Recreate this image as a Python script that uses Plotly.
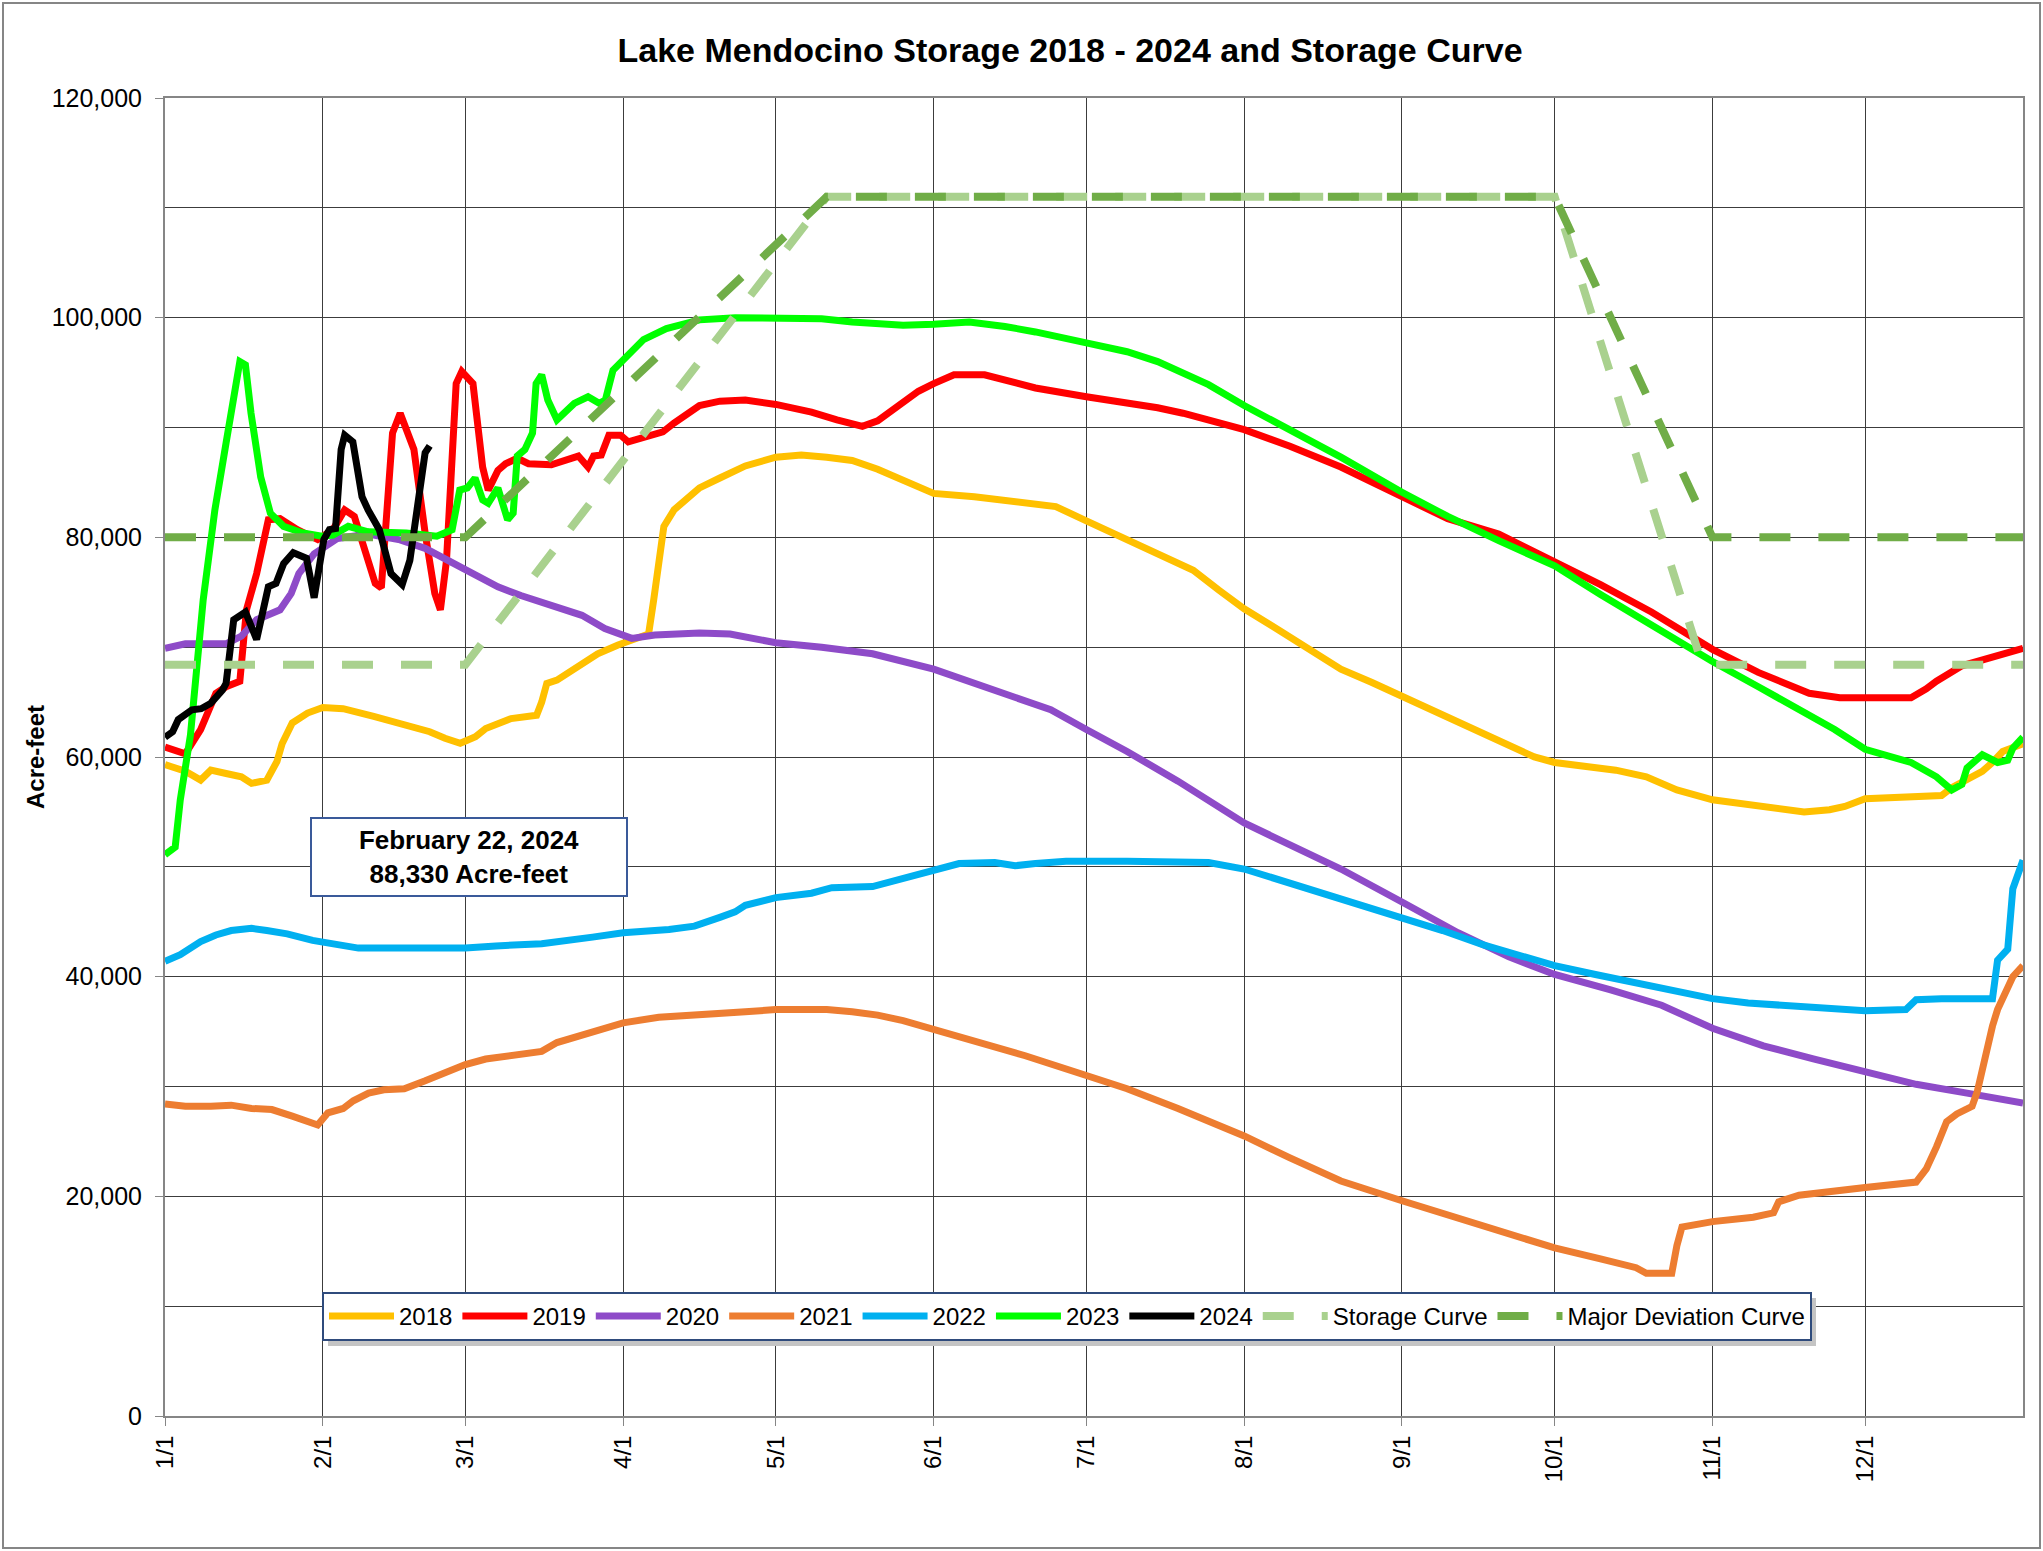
import plotly.graph_objects as go

# ---------------- data ----------------
month_days = [1, 32, 60, 91, 121, 152, 182, 213, 244, 274, 305, 335]
month_labels = ['1/1', '2/1', '3/1', '4/1', '5/1', '6/1', '7/1', '8/1', '9/1', '10/1', '11/1', '12/1']
y_tick_values = [0, 20000, 40000, 60000, 80000, 100000, 120000]
y_tick_labels = ['0', '20,000', '40,000', '60,000', '80,000', '100,000', '120,000']

days_2018 = [1, 5, 8, 10, 13, 16, 18, 21, 23, 24, 26, 29, 32, 36, 42, 48, 53, 56, 59, 62,
             64, 69, 74, 75, 76, 78, 81, 86, 90, 96, 97, 98, 99, 101, 106, 110, 115, 121, 126, 131,
             136, 141, 146, 152, 160, 170, 176, 182, 190, 197, 203, 208, 213, 220, 227, 232, 238, 244, 251, 258,
             265, 270, 274, 280, 286, 292, 298, 305, 312, 318, 323, 328, 331, 335, 342, 350, 352, 355, 358, 360,
             362, 366]
acft_2018 = [59300, 58700, 57900, 58800, 58500, 58200, 57600, 57900, 59600, 61200, 63100, 64000, 64500, 64400, 63700, 62900, 62300, 61700, 61250, 61850,
             62600, 63500, 63800, 65000, 66700, 67000, 67900, 69400, 70200, 71200, 74300, 78000, 81000, 82500, 84500, 85400, 86500, 87300, 87500, 87300,
             87000, 86200, 85200, 84000, 83700, 83200, 82800, 81500, 79800, 78200, 77000, 75200, 73500, 71500, 69500, 68000, 66800, 65500, 64000, 62500,
             61000, 60000, 59500, 59200, 58800, 58200, 57000, 56100, 55700, 55300, 55000, 55200, 55500, 56200, 56400, 56500, 57200, 58000, 58700, 59500,
             60500, 61200]

days_2019 = [1, 5, 8, 9, 11, 13, 15.7, 17, 19, 21.3, 23.6, 27, 31, 34, 36.3, 38.2, 42.3, 43.5, 45.7, 47.2,
             49.9, 52.1, 54, 55.1, 56.3, 58.2, 59.3, 61.5, 63.4, 64.5, 66.4, 67.9, 70.2, 72.4, 76.9, 82.2, 84.1, 85.2, 86.7, 88.2,
             90.5, 92, 96.5, 98.8, 101, 106, 110, 115, 121, 128, 133, 138, 141, 145, 149, 152, 156, 162, 166, 172,
             182, 190, 196, 201, 206, 213, 222, 232, 244, 253, 263, 274, 283, 293, 305, 314, 324, 330, 335, 344,
             347, 349, 354, 359, 366]
acft_2019 = [60900, 60300, 62500, 63700, 65800, 66400, 66900, 73400, 76700, 81600, 81700, 80700, 79800, 80700, 82500, 81900, 75800, 75400, 89500, 91300,
             88000, 80400, 74900, 73400, 77900, 94000, 95100, 94000, 86400, 84300, 86100, 86700, 87200, 86700, 86600, 87400, 86400, 87400, 87500, 89300,
             89300, 88700, 89300, 89600, 90400, 92000, 92400, 92500, 92100, 91400, 90700, 90100, 90600, 92000, 93300, 94000, 94800, 94800, 94300, 93600,
             92800, 92300, 91800, 91300, 90700, 89800, 88300, 86400, 83700, 81700, 80300, 77800, 75700, 73200, 69800, 67700, 65800, 65400, 65400, 65400,
             66200, 66900, 68300, 68900, 69900]

days_2020 = [1, 5, 13, 16, 19, 23.6, 25.8, 27.3, 30.3, 34.9, 40.9, 46.9, 52.1, 60.4, 66.4, 70.9, 76.9, 82.9, 87.4, 92.7,
             97.2, 106, 112, 121, 130, 140, 152, 165, 175, 182, 190, 200, 213, 222, 232, 244, 255, 265, 274, 285,
             295, 305, 315, 325, 335, 345, 355, 366]
acft_2020 = [69900, 70300, 70300, 71000, 72500, 73400, 74900, 76700, 78500, 79900, 80300, 79800, 79000, 76900, 75500, 74700, 73800, 72900, 71700, 70800,
             71100, 71300, 71200, 70400, 70000, 69400, 68000, 66000, 64300, 62500, 60500, 57800, 54000, 52000, 49800, 46800, 44000, 41800, 40200, 38800,
             37400, 35300, 33700, 32500, 31300, 30200, 29400, 28500]

days_2021 = [1, 5, 10, 14, 18, 22, 26, 29, 31, 33, 36, 38, 41, 44, 48, 52, 56, 60, 64, 68,
             72, 75, 78, 82, 86, 91, 98, 106, 115, 121, 131, 136, 141, 146, 152, 160, 170, 182, 190, 200,
             213, 222, 232, 244, 255, 265, 274, 283, 290, 292, 297, 298, 299, 305, 313, 317, 318, 322, 327, 335,
             345, 347, 349, 351, 353, 356, 357, 358, 359, 360, 361, 363, 364, 366]
acft_2021 = [28400, 28200, 28200, 28300, 28000, 27900, 27300, 26800, 26500, 27600, 28000, 28700, 29400, 29700, 29800, 30500, 31200, 32000, 32500, 32700,
             33000, 33200, 34000, 34600, 35200, 35800, 36300, 36600, 36800, 37000, 37000, 36800, 36500, 36000, 35200, 34000, 32800, 31000, 29800, 28000,
             25500, 23500, 21400, 19600, 18000, 16500, 15300, 14300, 13500, 13000, 13000, 15500, 17200, 17700, 18100, 18500, 19500, 20100, 20400, 20800,
             21300, 22500, 24500, 26800, 27500, 28200, 29500, 31500, 34000, 35500, 37000, 39000, 40000, 41000]

days_2022 = [1, 4, 8, 11, 14, 18, 21, 25, 30, 35, 39, 50, 60, 66, 75, 85, 91, 100, 105, 110,
             113, 115, 118, 121, 128, 132, 140, 146, 152, 157, 164, 168, 172, 178, 190, 200, 206, 213, 220, 227,
             235, 244, 252, 260, 267, 274, 282, 290, 298, 305, 312, 320, 328, 335, 343, 345, 350, 360, 361, 363,
             364, 366]
acft_2022 = [41400, 42000, 43200, 43800, 44200, 44400, 44200, 43900, 43300, 42900, 42600, 42600, 42600, 42800, 43000, 43600, 44000, 44300, 44600, 45400,
             45900, 46500, 46900, 47200, 47600, 48100, 48200, 48900, 49600, 50300, 50400, 50100, 50300, 50500, 50500, 50500, 50400, 49800, 48800, 47800,
             46700, 45300, 44200, 42900, 42000, 41000, 40200, 39400, 38700, 38000, 37600, 37400, 37100, 36900, 37000, 37900, 38000, 38000, 41500, 42500,
             48000, 50600]

days_2023 = [1, 3, 4, 6, 8.5, 10.8, 13, 14.9, 15.7, 16.8, 17.9, 19.8, 21.7, 24.3, 28.1, 31.8, 34, 37, 40.9, 48.4,
             54.4, 57.4, 58.9, 60.4, 61.9, 63.4, 64.5, 66.4, 68.3, 69.4, 70.2, 71.7, 73.2, 73.9, 75, 76.2, 78, 81.4, 84.1, 86.3,
             87.5, 89, 91.2, 95, 99.5, 106, 113, 121, 130, 136, 141, 146, 152, 156, 159, 166, 172, 182, 190, 196,
             201, 206, 213, 222, 232, 244, 253, 263, 274, 283, 293, 305, 314, 324, 329, 335, 344, 349, 352, 354,
             355, 358, 361, 363, 364, 366]
acft_2023 = [51100, 51800, 56100, 62000, 74300, 82500, 88600, 94000, 96000, 95700, 91300, 85500, 82200, 81000, 80400, 80100, 80200, 81000, 80500, 80400,
             80100, 80700, 84300, 84500, 85400, 83400, 83100, 84500, 81600, 82200, 87400, 88000, 89500, 94000, 94800, 92500, 90700, 92200, 92800, 92200,
             92500, 95200, 96300, 98000, 99000, 99800, 100000, 100000, 99900, 99600, 99500, 99300, 99400, 99500, 99600, 99200, 98700, 97700, 96900, 96000,
             95000, 93900, 92000, 89800, 87300, 84100, 81900, 79700, 77400, 74800, 72000, 68700, 66400, 63800, 62500, 60700, 59500, 58200, 57000, 57500,
             59000, 60200, 59500, 59700, 60800, 61800]

days_2024 = [1, 2.5, 3.6, 6.3, 8.1, 10, 12.3, 13, 14.5, 16.8, 19, 21.3, 22.8, 24.3, 26.2, 28.8, 30.3, 32.2, 33.3, 34.5,
             35.6, 36.3, 37.9, 39.7, 40.9, 43.1, 45.4, 47.6, 49.1, 50.6, 52.1, 53]
acft_2024 = [61800, 62300, 63400, 64300, 64400, 64900, 66100, 66700, 72500, 73200, 70700, 75500, 75800, 77600, 78600, 78100, 74500, 79800, 80700, 80800,
             88000, 89300, 88700, 83700, 82500, 80700, 76700, 75700, 77900, 83400, 87700, 88330]

days_storage = [1, 60, 131, 274, 303, 366]
acft_storage = [68400, 68400, 111000, 111000, 68400, 68400]

days_major = [1, 60, 131, 274, 305, 366]
acft_major = [80000, 80000, 111000, 111000, 80000, 80000]

series = [
    ('2018', days_2018, acft_2018, '#FFC000', 'solid'),
    ('2019', days_2019, acft_2019, '#FF0000', 'solid'),
    ('2020', days_2020, acft_2020, '#8E4BC8', 'solid'),
    ('2021', days_2021, acft_2021, '#ED7D31', 'solid'),
    ('2022', days_2022, acft_2022, '#00B0F0', 'solid'),
    ('2023', days_2023, acft_2023, '#00FF00', 'solid'),
    ('2024', days_2024, acft_2024, '#000000', 'solid'),
    ('Storage Curve', days_storage, acft_storage, '#A9D18E', '31px,28px'),
    ('Major Deviation Curve', days_major, acft_major, '#70AD47', '31px,28px'),
]

FONT = 'Liberation Sans, Arial, sans-serif'

fig = go.Figure()
for name, xs, ys, color, dash in series:
    fig.add_trace(go.Scatter(
        x=xs, y=ys, mode='lines', name=name,
        line=dict(color=color, width=8 if dash != 'solid' else 7, dash=dash),
    ))

W, H = 2043, 1551
L, R, T, B = 165, 20, 98, 135
pw, ph = W - L - R, H - T - B


def px_x(x):
    return (x - L) / pw


def px_y(y):
    return (H - B - y) / ph


grid = '#3c3c3c'
axis_line = '#868686'

fig.update_layout(
    width=W, height=H,
    margin=dict(l=L, r=R, t=T, b=B, autoexpand=False),
    paper_bgcolor='white', plot_bgcolor='white',
    font=dict(family=FONT, color='black', size=24),
    title=dict(text='<b>Lake Mendocino Storage 2018 - 2024 and Storage Curve</b>',
               font=dict(size=34, family=FONT, color='black'),
               xref='paper', x=px_x(1070), xanchor='center',
               yref='container', y=1 - 50 / H, yanchor='middle'),
    showlegend=True,
    legend=dict(orientation='h', x=px_x(322), y=px_y(1292), xanchor='left', yanchor='top',
                bgcolor='white', bordercolor='#2F4B7C', borderwidth=2,
                font=dict(size=24, family=FONT, color='black'),
                itemwidth=65, traceorder='normal'),
    xaxis=dict(range=[1, 366], tickmode='array', tickvals=month_days, ticktext=month_labels,
               tickangle=-90, ticks='outside', ticklen=8, tickcolor=axis_line, tickwidth=1,
               showgrid=True, gridcolor=grid, gridwidth=1,
               showline=True, linecolor=axis_line, linewidth=2, mirror=True,
               zeroline=False, tickfont=dict(size=24, family=FONT, color='black')),
    yaxis=dict(range=[0, 120000], tickmode='array', tickvals=y_tick_values, ticktext=y_tick_labels,
               ticks='outside', ticklen=8, tickcolor=axis_line, tickwidth=1,
               showgrid=True, gridcolor=grid, gridwidth=1,
               minor=dict(dtick=10000, showgrid=True, gridcolor=grid, gridwidth=1),
               showline=True, linecolor=axis_line, linewidth=2, mirror=True,
               zeroline=False, tickfont=dict(size=25, family=FONT, color='black'),
               ticklabelstandoff=8,
               title=dict(text='<b>Acre-feet</b>', font=dict(size=24, family=FONT, color='black'),
                          standoff=0)),
)

# legend drop shadow
fig.add_shape(type='rect', xref='paper', yref='paper',
              x0=px_x(328), x1=px_x(1816), y0=px_y(1346), y1=px_y(1298),
              line=dict(width=0), fillcolor='#C4C4C4', layer='above')

# callout box
fig.add_annotation(
    xref='paper', yref='paper', x=px_x(469), y=px_y(857), xanchor='center', yanchor='middle',
    text='<b>February 22, 2024</b><br><b>88,330 Acre-feet</b>', showarrow=False,
    font=dict(size=26, family=FONT, color='black'), align='center',
    bgcolor='white', bordercolor='#3A5A9A', borderwidth=2, borderpad=4,
    width=306, height=68,
)

# outer chart border
fig.add_shape(type='rect', xref='paper', yref='paper',
              x0=px_x(3), x1=px_x(2040), y0=px_y(1548), y1=px_y(3),
              line=dict(color='#868686', width=2), fillcolor='rgba(0,0,0,0)', layer='above')

fig.write_html('out.html', config={'displayModeBar': False},
               post_script="document.body.style.margin='0';document.body.style.overflow='hidden';")
